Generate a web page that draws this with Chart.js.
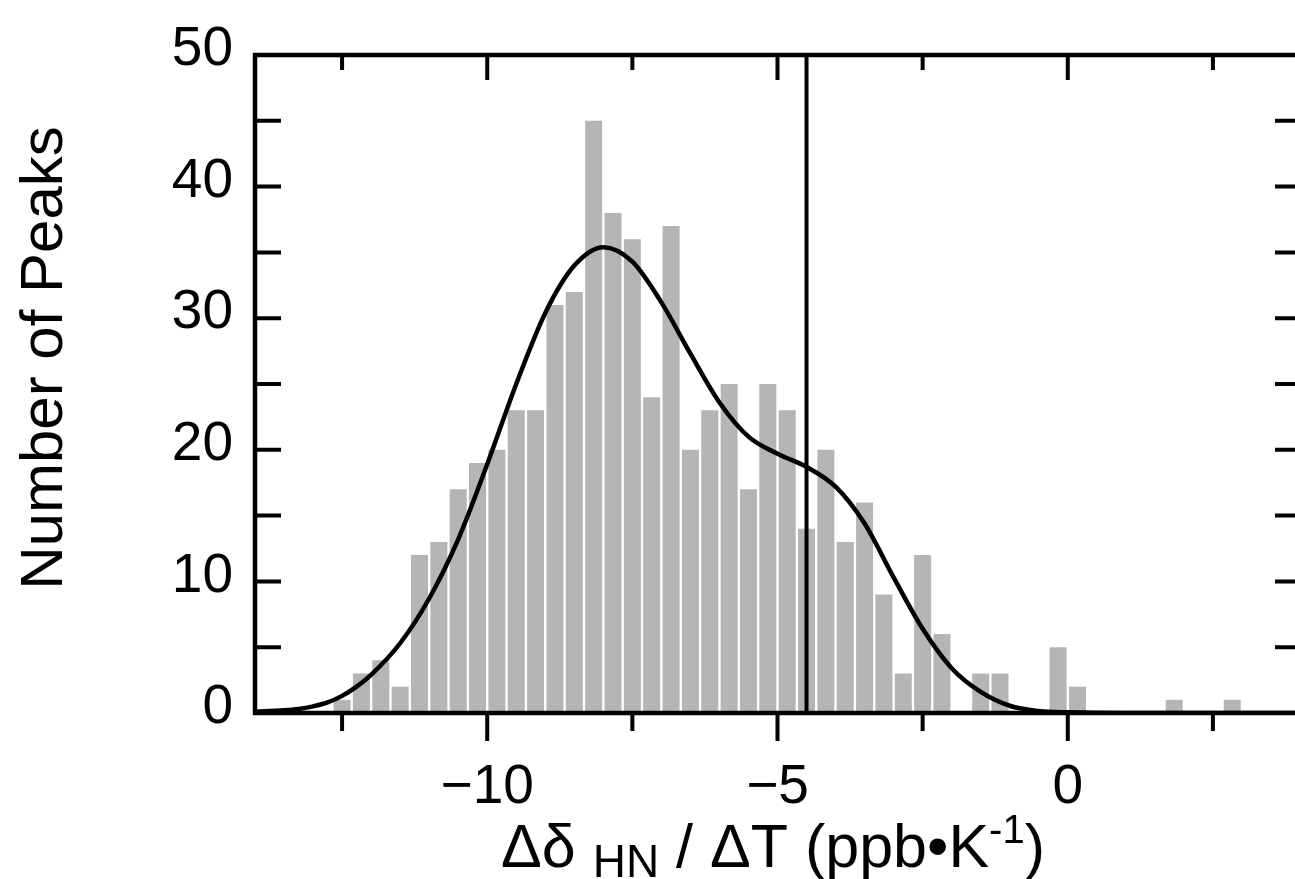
<!DOCTYPE html>
<html>
<head>
<meta charset="utf-8">
<script src="https://cdn.jsdelivr.net/npm/chart.js@4.4.1/dist/chart.umd.min.js"></script>
<style>
  html, body { margin: 0; padding: 0; background: #fff; overflow: hidden; }
  #wrap { width: 1300px; height: 879px; }
</style>
</head>
<body>
<div id="wrap"><canvas id="histChart" width="1300" height="879"></canvas></div>
<script>
// histogram bins, 1/3 ppb/K wide (centres)
const binCenters = [
  -12.5, -12.167, -11.833, -11.5, -11.167, -10.833, -10.5, -10.167,
  -9.833, -9.5, -9.167, -8.833, -8.5, -8.167, -7.833, -7.5, -7.167,
  -6.833, -6.5, -6.167, -5.833, -5.5, -5.167, -4.833, -4.5, -4.167,
  -3.833, -3.5, -3.167, -2.833, -2.5, -2.167, -1.833, -1.5, -1.167,
  -0.833, -0.5, -0.167, 0.167, 0.5, 0.833, 1.167, 1.5, 1.833, 2.167,
  2.5, 2.833
];
const peakCounts = [
  1, 3, 4, 2, 12, 13, 17, 19,
  20, 23, 23, 31, 32, 45, 38, 36, 24,
  37, 20, 23, 25, 17, 25, 23, 14, 20,
  13, 16, 9, 3, 12, 6, 0, 3, 3,
  0, 0, 5, 2, 0, 0, 0, 0, 1, 0,
  0, 1
];

// smoothed distribution
const curveX = [-14, -13.5, -13.25, -13, -12.75, -12.5, -12.25, -12, -11.5, -11, -10.5, -10, -9.5, -9, -8.5, -8,
  -7.5, -7, -6.5, -6, -5.5, -5, -4.5, -4, -3.5, -3, -2.5, -2, -1.5, -1, -0.5, 0, 1, 2, 3, 4];
const curveY = [0.1, 0.2, 0.3, 0.5, 0.8, 1.3, 2.0, 2.9, 5.3, 8.7, 13.2, 18.9, 25.0, 30.4, 34.0, 35.4,
  34.3, 31.2, 27.3, 23.6, 21.0, 19.7, 18.7, 17.2, 14.4, 10.3, 6.4, 3.4, 1.6, 0.55, 0.15, 0.05, 0, 0, 0, 0];

const cutoff = -4.5;

const xTickValues = [-10, -5, 0];
const xTickLabels = ['\u221210', '\u22125', '0'];
const xMinorTicks = [-12.5, -7.5, -2.5, 2.5];
const yTickValues = [0, 10, 20, 30, 40, 50];
const yTickLabels = ['0', '10', '20', '30', '40', '50'];
const yMarkTicks = [0, 5, 10, 15, 20, 25, 30, 35, 40, 45, 50];

const FONT = '"Liberation Sans", Arial, Helvetica, sans-serif';

// frame, inward/outward ticks, cutoff line
const framePlugin = {
  id: 'frame',
  afterDatasetsDraw(chart) {
    const { ctx, chartArea: a, scales: { x, y } } = chart;
    ctx.save();
    ctx.strokeStyle = '#000';
    ctx.lineCap = 'butt';

    const cx = x.getPixelForValue(cutoff);
    ctx.lineWidth = 4;
    ctx.beginPath();
    ctx.moveTo(cx, a.top);
    ctx.lineTo(cx, a.bottom);
    ctx.stroke();

    ctx.lineWidth = 4.5;
    ctx.strokeRect(a.left, a.top, a.right - a.left, a.bottom - a.top);

    ctx.lineWidth = 4;
    ctx.beginPath();
    xTickValues.forEach(v => {
      const px = x.getPixelForValue(v);
      ctx.moveTo(px, a.bottom); ctx.lineTo(px, a.bottom + 28);
      ctx.moveTo(px, a.top); ctx.lineTo(px, a.top + 25);
    });
    xMinorTicks.forEach(v => {
      const px = x.getPixelForValue(v);
      ctx.moveTo(px, a.bottom); ctx.lineTo(px, a.bottom + 18);
      ctx.moveTo(px, a.top); ctx.lineTo(px, a.top + 15);
    });
    yMarkTicks.forEach(v => {
      const py = y.getPixelForValue(v);
      ctx.moveTo(a.left, py); ctx.lineTo(a.left + 26, py);
      ctx.moveTo(a.right, py); ctx.lineTo(a.right - 25, py);
    });
    ctx.stroke();
    ctx.restore();
  },
  afterDraw(chart) {
    const { ctx } = chart;
    ctx.save();
    ctx.fillStyle = '#000';

    // y title
    ctx.save();
    ctx.translate(62, 358);
    ctx.rotate(-Math.PI / 2);
    ctx.font = '60px ' + FONT;
    ctx.textAlign = 'center';
    ctx.textBaseline = 'alphabetic';
    ctx.fillText('Number of Peaks', 0, 0);
    ctx.restore();

    // x title with subscript / superscript
    const parts = [
      { t: '\u0394\u03b4', size: 61, dy: 0 },
      { t: ' ', size: 61, dy: 0 },
      { t: 'HN', size: 46, dy: 10 },
      { t: ' / \u0394T (ppb\u2022K', size: 61, dy: 0 },
      { t: '-1', size: 40, dy: -24 },
      { t: ')', size: 61, dy: 0 }
    ];
    let total = 0;
    parts.forEach(p => {
      ctx.font = p.size + 'px ' + FONT;
      p.w = ctx.measureText(p.t).width;
      total += p.w;
    });
    let px = 773 - total / 2;
    ctx.textAlign = 'left';
    ctx.textBaseline = 'alphabetic';
    parts.forEach(p => {
      ctx.font = p.size + 'px ' + FONT;
      ctx.fillText(p.t, px, 867 + p.dy);
      px += p.w;
    });
    ctx.restore();
  }
};

const ctx = document.getElementById('histChart').getContext('2d');
new Chart(ctx, {
  type: 'bar',
  data: {
    datasets: [
      {
        type: 'line',
        data: curveX.map((v, i) => ({ x: v, y: curveY[i] })),
        borderColor: '#000',
        borderWidth: 4.5,
        pointRadius: 0,
        cubicInterpolationMode: 'monotone',
        fill: false,
        order: 0
      },
      {
        type: 'bar',
        data: binCenters.map((v, i) => ({ x: v, y: peakCounts[i] })),
        backgroundColor: '#b5b5b5',
        borderWidth: 0,
        barPercentage: 0.88,
        categoryPercentage: 1,
        order: 1
      }
    ]
  },
  options: {
    responsive: false,
    animation: false,
    devicePixelRatio: 1,
    layout: { padding: { top: 47, left: 0, right: 0, bottom: 0 } },
    plugins: { legend: { display: false }, tooltip: { enabled: false } },
    scales: {
      x: {
        type: 'linear',
        min: -14,
        max: 4,
        offset: false,
        grid: { display: false, drawTicks: false },
        border: { display: false },
        afterBuildTicks: s => { s.ticks = xTickValues.map(v => ({ value: v })); },
        afterFit: s => { s.height = 166; },
        ticks: {
          autoSkip: false,
          maxRotation: 0,
          padding: 42,
          color: '#000',
          font: { family: FONT, size: 55 },
          callback: v => xTickLabels[xTickValues.indexOf(v)]
        }
      },
      y: {
        min: 0,
        max: 50,
        grid: { display: false, drawTicks: false },
        border: { display: false },
        afterBuildTicks: s => { s.ticks = yTickValues.map(v => ({ value: v })); },
        afterFit: s => { s.width = 255; },
        ticks: {
          padding: 22,
          labelOffset: -5,
          color: '#000',
          font: { family: FONT, size: 55 },
          callback: v => yTickLabels[yTickValues.indexOf(v)]
        }
      }
    }
  },
  plugins: [framePlugin]
});
</script>
</body>
</html>
